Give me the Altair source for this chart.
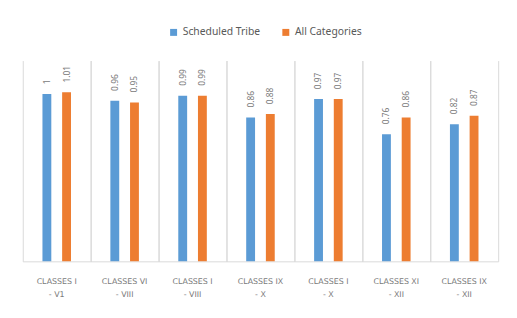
import altair as alt
import pandas as pd

categories = ["CLASSES I - V1", "CLASSES VI - VIII", "CLASSES I - VIII", "CLASSES IX - X",
              "CLASSES I - X", "CLASSES XI - XII", "CLASSES IX - XII"]
series = ["Scheduled Tribe", "All Categories"]
st_values = [1.00, 0.96, 0.99, 0.86, 0.97, 0.76, 0.82]
all_values = [1.01, 0.95, 0.99, 0.88, 0.97, 0.86, 0.87]
colors = ["#5B9BD5", "#ED7D31"]

rows = []
for c, a, b in zip(categories, st_values, all_values):
    rows.append({"cat": c, "series": series[0], "value": a})
    rows.append({"cat": c, "series": series[1], "value": b})
df = pd.DataFrame(rows)

FONT = "Noto Sans"
GRID = "#d9d9d9"

x_enc = alt.X("cat:N", sort=categories, title=None,
              scale=alt.Scale(paddingInner=0, paddingOuter=0),
              axis=alt.Axis(orient="bottom", bandPosition=0, grid=True, gridColor=GRID,
                            domainColor=GRID, ticks=False, labelAngle=0,
                            labelFont="DejaVu Sans", labelFontSize=8, labelColor="#7a7a7a",
                            labelPadding=16, labelLineHeight=14,
                            labelExpr="[split(datum.label,' - ')[0], '- ' + split(datum.label,' - ')[1]]"))
xo_enc = alt.XOffset("series:N", sort=series,
                     scale=alt.Scale(paddingInner=0.55, paddingOuter=1))
y_enc = alt.Y("value:Q", scale=alt.Scale(domain=[0, 1.2]), axis=None)

bars = alt.Chart(df).mark_bar().encode(
    x=x_enc, xOffset=xo_enc, y=y_enc,
    color=alt.Color("series:N", sort=series,
                    scale=alt.Scale(domain=series, range=colors),
                    legend=alt.Legend(title=None, orient="none", direction="horizontal",
                                      legendX=148, legendY=-34, symbolType="square",
                                      symbolSize=50, labelFont=FONT, labelFontSize=10.5,
                                      labelColor="#595959", columnPadding=20,
                                      symbolStrokeWidth=0)),
)

labels = alt.Chart(df).mark_text(angle=270, align="left", baseline="middle", dx=10,
                                 font=FONT, fontSize=8.5, color="#7a7a7a").encode(
    x=alt.X("cat:N", sort=categories,
            axis=alt.Axis(orient="top", bandPosition=1, grid=True, gridColor=GRID,
                          domain=False, ticks=False, labels=False, title=None)),
    xOffset=xo_enc, y=y_enc,
    text=alt.Text("value:Q", format=".2~f"),
)

chart = alt.layer(bars, labels).properties(
    width=483, height=204,
    autosize=alt.AutoSizeParams(type="none"),
    padding={"left": 15, "top": 51, "right": 11, "bottom": 47},
).configure_view(stroke=None)

chart.save("out.html", embed_options={"renderer": "svg", "actions": False})
